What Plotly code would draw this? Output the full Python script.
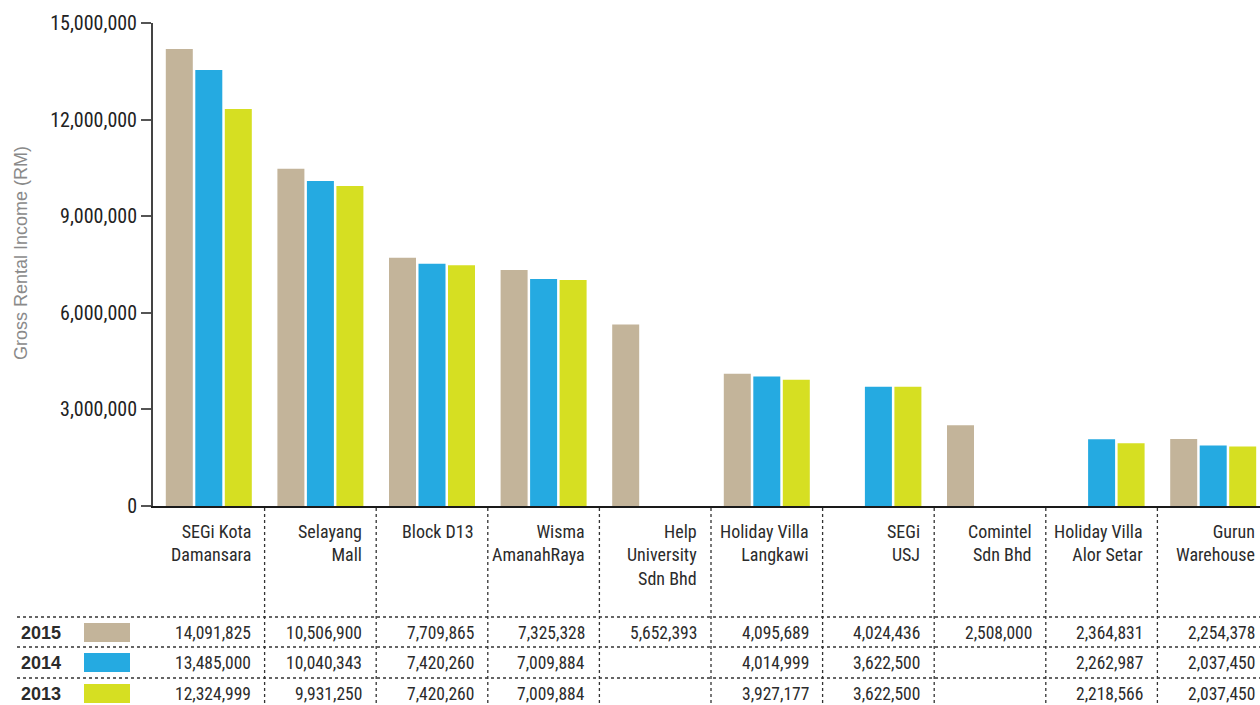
import plotly.graph_objects as go

# ---------------- data ----------------
categories = ["SEGi Kota<br>Damansara", "Selayang<br>Mall", "Block D13", "Wisma<br>AmanahRaya",
              "Help<br>University<br>Sdn Bhd", "Holiday Villa<br>Langkawi", "SEGi<br>USJ",
              "Comintel<br>Sdn Bhd", "Holiday Villa<br>Alor Setar", "Gurun<br>Warehouse"]
years = ["2015", "2014", "2013"]

# bar heights as drawn in the chart
bars_2015 = [14190000, 10470000, 7710000, 7330000, 5640000, 4110000, None, 2510000, None, 2080000]
bars_2014 = [13540000, 10090000, 7520000, 7050000, None, 4020000, 3700000, None, 2070000, 1880000]
bars_2013 = [12330000, 9940000, 7480000, 7020000, None, 3920000, 3700000, None, 1950000, 1850000]

# values printed in the table
table_2015 = ["14,091,825", "10,506,900", "7,709,865", "7,325,328", "5,652,393", "4,095,689",
              "4,024,436", "2,508,000", "2,364,831", "2,254,378"]
table_2014 = ["13,485,000", "10,040,343", "7,420,260", "7,009,884", "", "4,014,999",
              "3,622,500", "", "2,262,987", "2,037,450"]
table_2013 = ["12,324,999", "9,931,250", "7,420,260", "7,009,884", "", "3,927,177",
              "3,622,500", "", "2,218,566", "2,037,450"]

y_ticks = [0, 3000000, 6000000, 9000000, 12000000, 15000000]
y_tick_labels = ["0", "3,000,000", "6,000,000", "9,000,000", "12,000,000", "15,000,000"]

colors = {"2015": "#C3B49A", "2014": "#25AAE1", "2013": "#D6DF22"}

# ---------------- layout helpers ----------------
W, H = 1260, 705
ML, MT, MB = 153, 23, 199
PLOT_W = W - ML
PLOT_H = H - MT - MB
ZERO_PX = H - MB
CAT_PX = 111.6            # pixel width of one category column

def py(px):   # pixel y -> paper y
    return (ZERO_PX - px) / PLOT_H

def pxp(px):  # pixel x -> paper x
    return (px - ML) / PLOT_W

COND = "Roboto Condensed, Roboto, sans-serif"
TEXT = "#2b2b2b"
RIGHT_SHIFT = CAT_PX / 2 - 12   # right edge of column minus padding, from column centre

xs = list(range(len(categories)))
fig = go.Figure()
for yr, vals in zip(years, [bars_2015, bars_2014, bars_2013]):
    fig.add_trace(go.Bar(x=xs, y=vals, name=yr, marker=dict(color=colors[yr], line=dict(width=0)),
                         showlegend=False, hoverinfo="skip"))

shapes = []
annotations = []

# vertical dotted column dividers
for i in range(len(categories) - 1):
    shapes.append(dict(type="line", xref="x", yref="paper", x0=i + 0.5, x1=i + 0.5,
                       y0=py(508), y1=py(705), line=dict(color="#333", width=1.3, dash="dot")))

# horizontal dotted row lines
for ypx in [617, 647, 678]:
    shapes.append(dict(type="line", xref="paper", yref="paper", x0=pxp(17), x1=1,
                       y0=py(ypx), y1=py(ypx), line=dict(color="#333", width=1.3, dash="dot")))

# category labels
for i, c in enumerate(categories):
    annotations.append(dict(x=i, xref="x", xshift=RIGHT_SHIFT, y=py(519), yref="paper",
                            text=c, showarrow=False, xanchor="right", yanchor="top", align="right",
                            font=dict(family=COND, size=18, color=TEXT)))

# table rows
row_centers = [633, 663, 694]
for yr, row, yc in zip(years, [table_2015, table_2014, table_2013], row_centers):
    annotations.append(dict(x=pxp(19), xref="paper", y=py(yc), yref="paper", text="<b>%s</b>" % yr,
                            showarrow=False, xanchor="left", yanchor="middle",
                            font=dict(family="Liberation Sans, Arial, sans-serif", size=18, color=TEXT)))
    shapes.append(dict(type="rect", xref="paper", yref="paper", x0=pxp(84), x1=pxp(130),
                       y0=py(yc - 10), y1=py(yc + 9), fillcolor=colors[yr], line=dict(width=0)))
    for i, v in enumerate(row):
        if v:
            annotations.append(dict(x=i, xref="x", xshift=RIGHT_SHIFT, y=py(yc), yref="paper",
                                    text=v, showarrow=False, xanchor="right", yanchor="middle",
                                    font=dict(family=COND, size=17.5, color=TEXT)))

# y axis title
annotations.append(dict(x=pxp(21), xref="paper", y=py(253), yref="paper",
                        text="Gross Rental Income (RM)", textangle=-90, showarrow=False,
                        xanchor="center", yanchor="middle",
                        font=dict(family="Liberation Sans, Arial, sans-serif", size=18, color="#8a8a8a")))

fig.update_layout(
    width=W, height=H,
    margin=dict(l=ML, r=0, t=MT, b=MB, pad=0),
    paper_bgcolor="white", plot_bgcolor="white",
    barmode="group", bargap=0.207, bargroupgap=0.085,
    shapes=shapes, annotations=annotations,
    hovermode=False,
    xaxis=dict(range=[-0.5, -0.5 + PLOT_W / CAT_PX], showticklabels=False, ticks="",
               showgrid=False, zeroline=False, showline=True, linecolor="#1a1a1a", linewidth=2,
               fixedrange=True),
    yaxis=dict(range=[0, 15000000], tickvals=y_ticks, ticktext=y_tick_labels,
               ticks="outside", ticklen=10, tickwidth=2, tickcolor="#555",
               showline=True, linecolor="#444", linewidth=2, showgrid=False, zeroline=False,
               tickfont=dict(family=COND, size=20, color="#222"), fixedrange=True),
)

post = ("var s=document.createElement('style');"
        "s.textContent='html,body{margin:0;padding:0;overflow:hidden} svg text{font-stretch:condensed}';"
        "document.head.appendChild(s);"
        "var gd=document.getElementById('{plot_id}');Plotly.redraw(gd);")
fig.write_html("out.html", post_script=post, config={"displayModeBar": False})
